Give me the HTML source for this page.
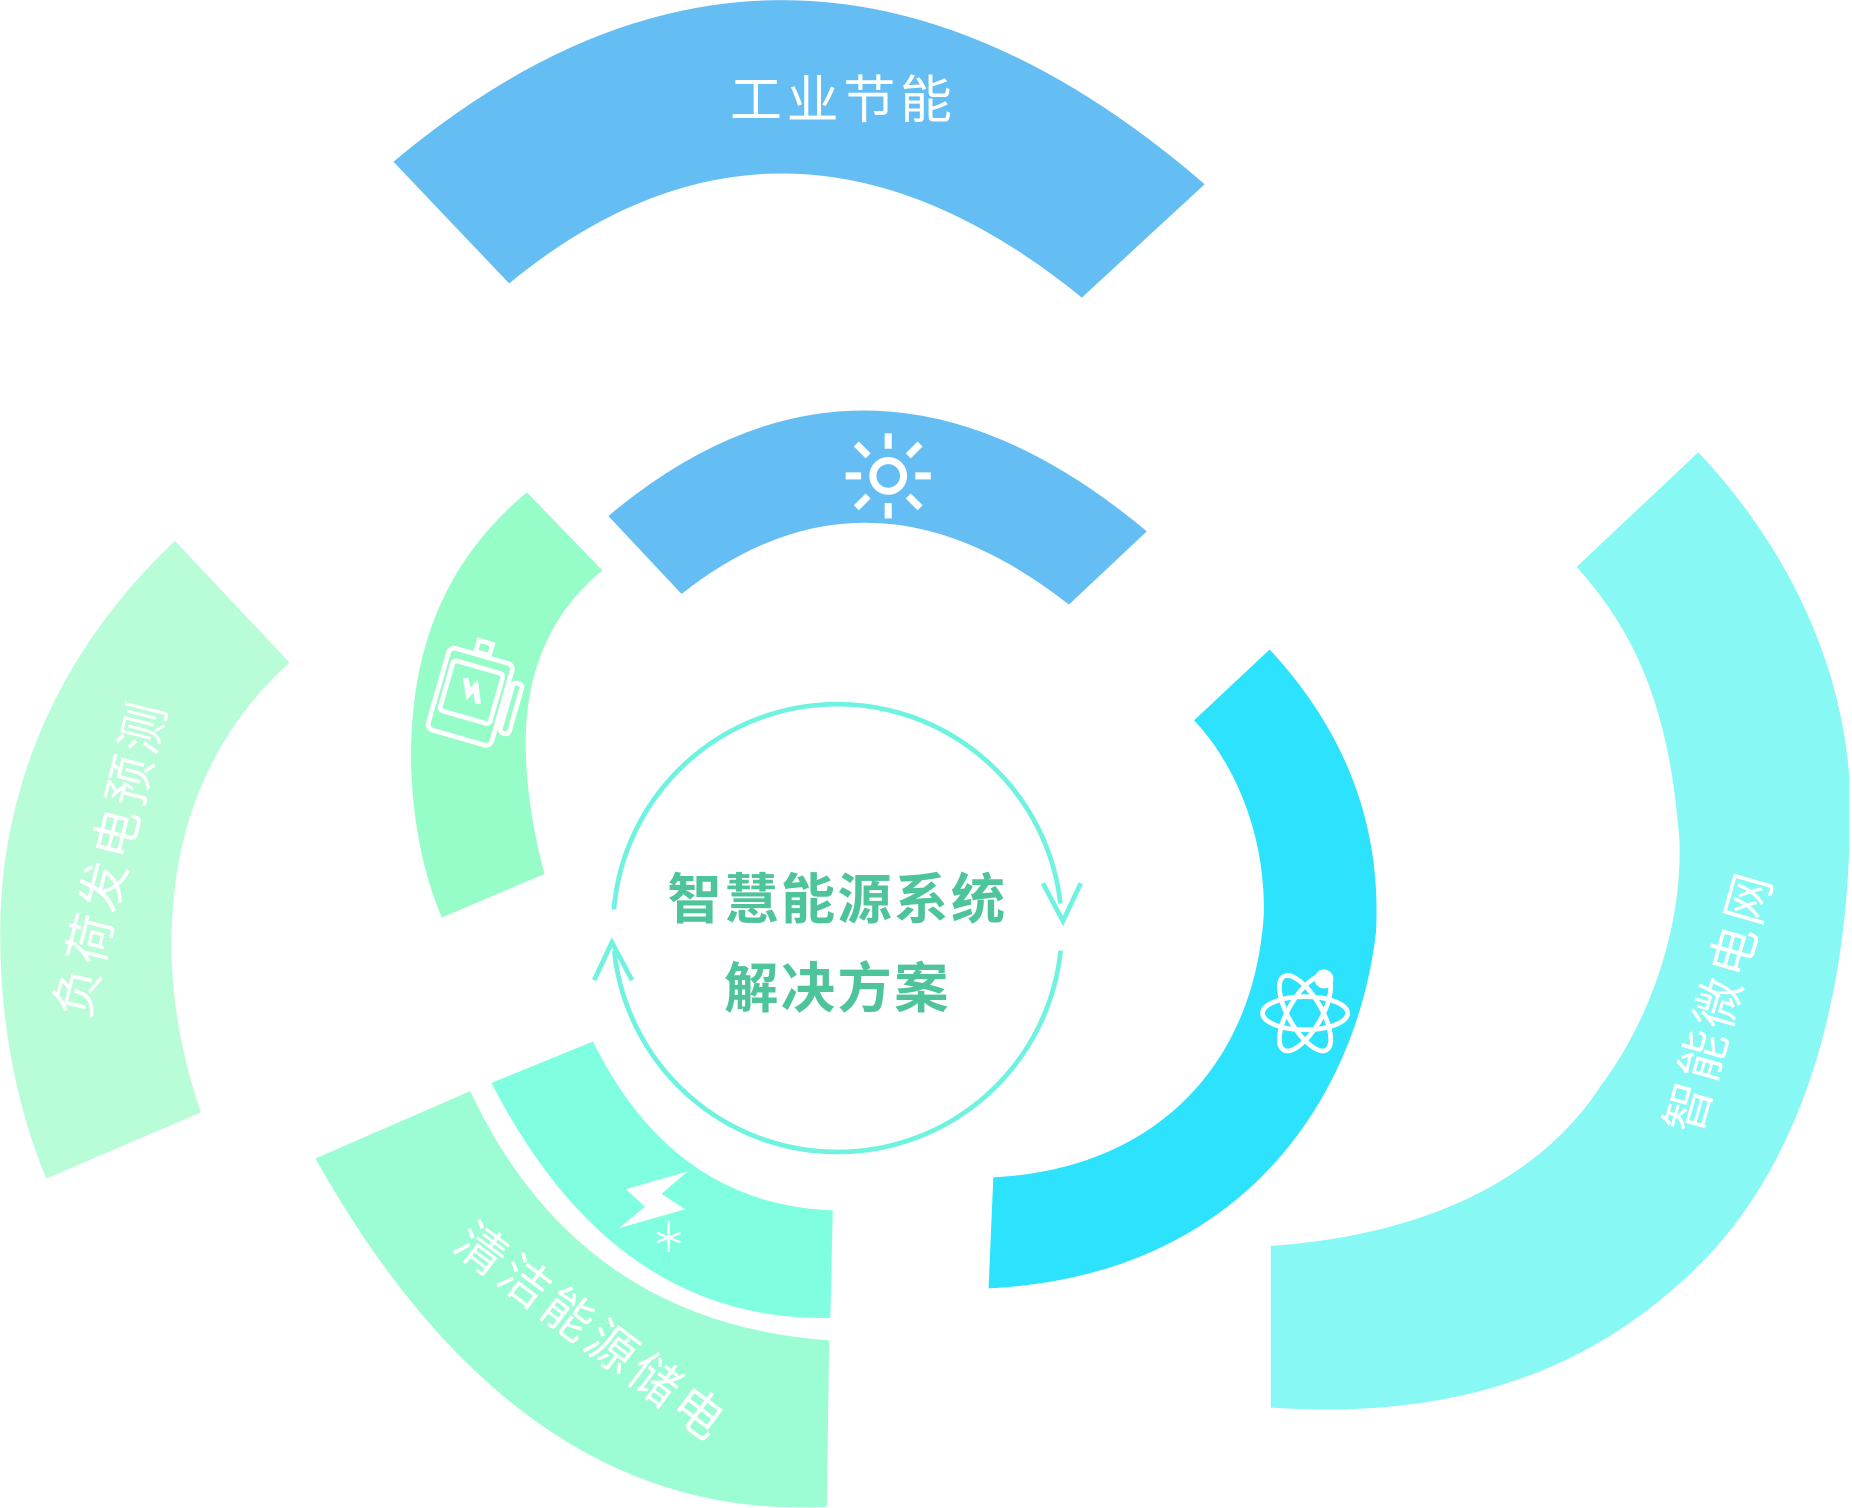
<!DOCTYPE html>
<html><head><meta charset="utf-8"><style>
html,body{margin:0;padding:0;background:#fff;width:1852px;height:1508px;overflow:hidden}
svg{display:block}
text{font-family:"Liberation Sans","Noto Sans CJK SC",sans-serif}
</style></head><body>
<svg width="1852" height="1508" viewBox="0 0 1568 1277" xmlns="http://www.w3.org/2000/svg">
<path d="M333,137 Q670,-146 1020,156 L916,252 Q665,48 431,240 Z" fill="#65BEF3"/>
<text x="714" y="100" font-size="44" fill="#fff" text-anchor="middle" letter-spacing="4">工业节能</text>
<path d="M515,437 Q735,252 971,450 L905,512 Q735,378 577,503 Z" fill="#65BEF3"/>
<g stroke="#fff" stroke-width="6" fill="none">
<circle cx="752" cy="403" r="13"/>
<line x1="752" y1="367" x2="752" y2="380"/><line x1="752" y1="426" x2="752" y2="439"/>
<line x1="716" y1="403" x2="729" y2="403"/><line x1="775" y1="403" x2="788" y2="403"/>
<line x1="725" y1="376" x2="735" y2="386"/><line x1="769" y1="420" x2="779" y2="430"/>
<line x1="779" y1="376" x2="769" y2="386"/><line x1="735" y1="420" x2="725" y2="430"/>
</g>
<path d="M446,417 C370,480 348,560 348,640 C348,690 358,740 374,777 L461,740 C450,700 445,660 445,630 C445,570 465,520 510,483 Z" fill="#96FCC8"/>
<g transform="translate(398,590) rotate(16)" stroke="#fff" stroke-width="4" fill="none">
<rect x="-28" y="-36" width="56" height="72" rx="5"/>
<rect x="-22" y="-26" width="44" height="44" rx="3"/>
<rect x="32" y="-22" width="8" height="44" rx="3"/>
<path d="M-6,-48 h12 v10 h-12z"/>
<path d="M-8,-14 l6,12 l4,-8 l6,14" stroke-width="5"/>
</g>
<path d="M148,458 C40,560 0,680 0,790 C0,870 15,940 39,998 L170,942 C152,890 145,840 145,800 C145,700 180,620 245,561 Z" fill="#B8FCD8"/>
<text x="0" y="0" font-size="42" fill="#fff" text-anchor="middle" letter-spacing="4" transform="translate(108,730) rotate(-76)">负荷发电预测</text>
<path d="M416,917 Q520,1120 703,1116 L705,1025 Q570,1020 502,882 Z" fill="#7FFFE0"/>
<path d="M530,1007 L582,992 L560,1011 L580,1024 L524,1040 L546,1022 Z" fill="#fff"/>
<path d="M566,1034 v26 M556,1044 l20,8 M576,1044 l-20,8" stroke="#fff" stroke-width="2"/>
<path d="M267,981 Q440,1290 700,1276 L702,1135 Q490,1120 398,924 Z" fill="#9CFDD4"/>
<text x="0" y="0" font-size="42" fill="#fff" text-anchor="middle" letter-spacing="4" transform="translate(492,1140) rotate(37)">清洁能源储电</text>
<path d="M1075,550 C1140,620 1170,700 1165,790 C1150,920 1060,1080 837,1091 L841,997 C980,990 1062,900 1070,775 C1072,700 1040,640 1011,610 Z" fill="#2DE2FC"/>
<g stroke="#fff" stroke-width="4" fill="none" transform="translate(1105,858)">
<ellipse rx="36" ry="14"/>
<ellipse rx="36" ry="14" transform="rotate(60)"/>
<ellipse rx="36" ry="14" transform="rotate(-60)"/>
</g>
<circle cx="1121" cy="829" r="8" fill="#fff"/>
<path d="M1438,383 C1520,470 1560,570 1566,660 L1566,715 C1560,900 1500,1010 1440,1070 C1330,1180 1200,1200 1076,1192 L1076,1055 C1220,1045 1310,990 1355,920 C1400,860 1425,780 1422,710 L1420,690 C1410,590 1380,530 1335,480 Z" fill="#87F8F4"/>
<text x="0" y="0" font-size="42" fill="#fff" text-anchor="middle" letter-spacing="4" transform="translate(1470,852) rotate(-74)">智能微电网</text>
<g stroke="#6FF3E0" stroke-width="4" fill="none">
<path d="M519.7,770 A190,190 0 0 1 897.8,765"/>
<path d="M898,805 A190,190 0 0 1 520,805"/>
<path d="M883,748 L900,780 L915,748"/>
<path d="M503,830 L518,798 L535,830"/>
</g>
<text x="709" y="778" font-size="46" font-weight="bold" fill="#4DC49A" text-anchor="middle" letter-spacing="2">智慧能源系统</text>
<text x="709" y="853" font-size="46" font-weight="bold" fill="#4DC49A" text-anchor="middle" letter-spacing="2">解决方案</text>
</svg>
</body></html>
